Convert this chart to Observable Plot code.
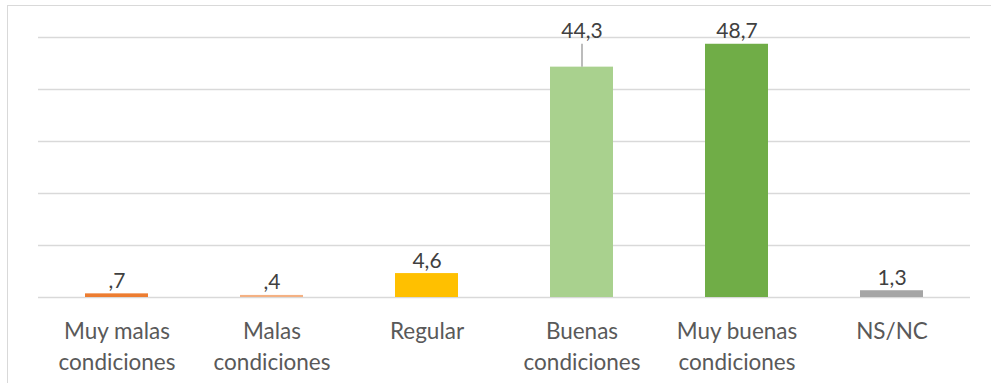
<!DOCTYPE html>
<html><head><meta charset="utf-8">
<script src="https://cdn.jsdelivr.net/npm/d3@7"></script>
<script src="https://cdn.jsdelivr.net/npm/@observablehq/plot@0.6"></script>
<style>
body{margin:0;background:#fff;}
#wrap{position:relative;width:991px;height:383px;overflow:hidden;}
#frame{position:absolute;left:7px;top:5px;width:1100px;height:500px;border:1.5px solid #d9d9d9;box-sizing:border-box;}
#chart{position:absolute;left:0;top:0;}
</style></head><body>
<div id="wrap"><div id="frame"></div><div id="chart"></div></div>
<script>
const categories = ["Muy malas\ncondiciones","Malas\ncondiciones","Regular","Buenas\ncondiciones","Muy buenas\ncondiciones","NS/NC"];
const values = [0.7, 0.4, 4.6, 44.3, 48.7, 1.3];
const colors = ["#ED7D31","#F4B183","#FFC000","#A9D18E","#70AD47","#A5A5A5"];
const gridTicks = [0, 10, 20, 30, 40, 50];
const leaderCategories = ["Buenas\ncondiciones"];

const fmt = v => { const s = v.toFixed(1).replace(".", ","); return s.startsWith("0") ? s.slice(1) : s; };
const data = categories.map((c, i) => ({cat: c, value: values[i], color: colors[i]}));
const maxV = d3.max(values);
const labelY = d => leaderCategories.includes(d.cat) ? maxV : d.value;
const leaders = data.filter(d => leaderCategories.includes(d.cat));
const font = "Lato, 'Open Sans', sans-serif";

const chart = Plot.plot({
  width: 991,
  height: 383,
  marginLeft: 38,
  marginRight: 21,
  marginTop: 37,
  marginBottom: 86,
  style: {fontFamily: font, background: "transparent"},
  x: {domain: categories, paddingInner: 0.595, paddingOuter: 0.2975, axis: null},
  y: {domain: [0, 50], axis: null},
  marks: [
    Plot.ruleY(gridTicks, {stroke: "#d9d9d9", strokeWidth: 1.3}),
    Plot.barY(data, {x: "cat", y: "value", fill: "color"}),
    Plot.ruleX(leaders, {x: "cat", y1: "value", y2: maxV, stroke: "#a6a6a6", strokeWidth: 1.5}),
    Plot.text(data, {x: "cat", y: labelY, text: d => fmt(d.value), lineAnchor: "bottom", dy: -6, fontSize: 21, fill: "#404040"}),
    Plot.text(data, {x: "cat", frameAnchor: "bottom", text: "cat", lineAnchor: "top", dy: 20, lineHeight: 1.36, fontSize: 22.5, fill: "#595959"})
  ]
});
document.getElementById("chart").appendChild(chart);
</script>
</body></html>
